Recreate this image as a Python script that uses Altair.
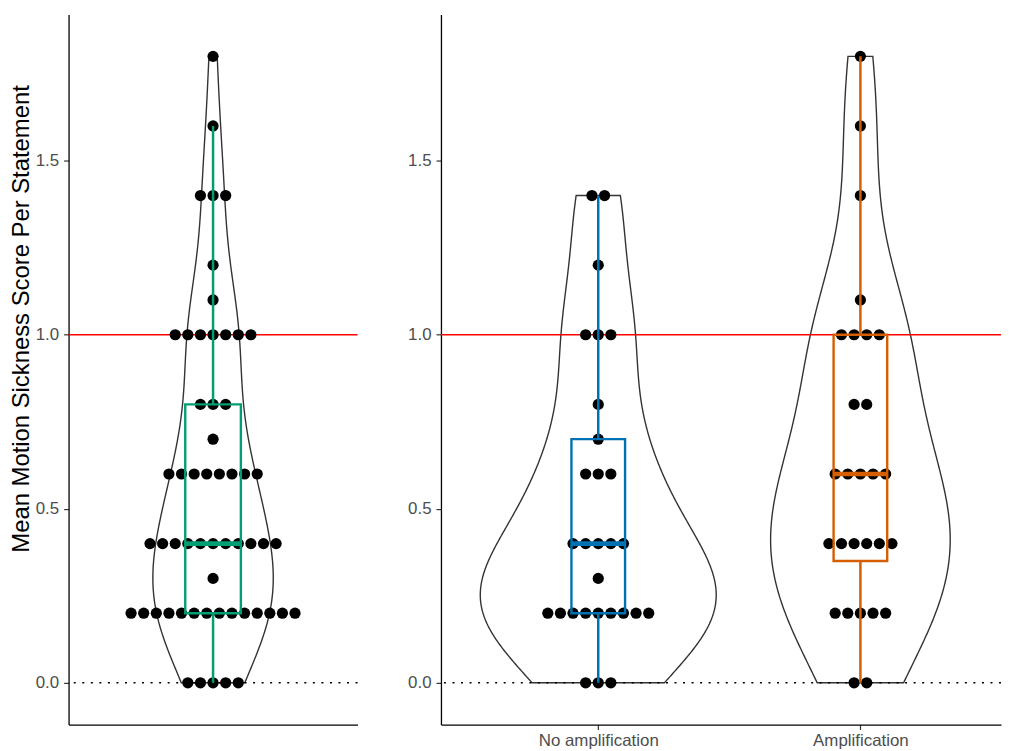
import json
import altair as alt
import numpy as np
import pandas as pd

# ---------------- data ----------------
levels = [0.0, 0.2, 0.3, 0.4, 0.6, 0.7, 0.8, 1.0, 1.1, 1.2, 1.4, 1.6, 1.8]
no_amp_counts = [3, 9, 1, 5, 3, 1, 1, 3, 0, 1, 2, 0, 0]
amp_counts = [2, 5, 0, 6, 5, 0, 2, 4, 1, 0, 1, 1, 1]
groups = ["No amplification", "Amplification"]
group_colors = ["#0072B2", "#D55E00"]
all_color = "#009E73"
y_ticks = [0.0, 0.5, 1.0, 1.5]
threshold = 1.0
baseline = 0.0
y_title = "Mean Motion Sickness Score Per Statement"


def expand(counts):
    return [v for v, c in zip(levels, counts) for _ in range(c)]


scores = {groups[0]: expand(no_amp_counts), groups[1]: expand(amp_counts)}
df_right = pd.DataFrame([{"group": g, "score": s} for g in groups for s in scores[g]])
df_all = pd.DataFrame({"group": "All", "score": df_right["score"].tolist()})


def bw_nrd0(x):
    x = np.asarray(x, float)
    sd = x.std(ddof=1)
    q75, q25 = np.percentile(x, [75, 25])
    lo = min(sd, (q75 - q25) / 1.34)
    if lo == 0:
        lo = sd
    return 0.9 * lo * len(x) ** -0.2


def kde_max(x, bw):
    x = np.asarray(x, float)
    grid = np.linspace(x.min(), x.max(), 512)
    d = np.exp(-0.5 * ((grid[:, None] - x[None, :]) / bw) ** 2).sum(1)
    d = d / (len(x) * bw * np.sqrt(2 * np.pi))
    return d.max()


# ---------------- styling ----------------
Y_DOMAIN = [-0.12, 1.92]
HEIGHT = 715
LEFT_W = 291
RIGHT_W = 564
PX_UNIT_R = 264.0
LEFT_DOMAIN = [0.4, 1.6]
RIGHT_DOMAIN = [0.4, 0.4 + RIGHT_W / PX_UNIT_R]
PX_UNIT_L = LEFT_W / (LEFT_DOMAIN[1] - LEFT_DOMAIN[0])
DOT_PX = 12.7
DOT_SIZE = 127
FONT = "Liberation Sans"


def make_panel(df, cats, colors, xdomain, width, px_unit, box_px, vwidth,
               show_title, show_xlabels):
    ys = alt.Scale(domain=Y_DOMAIN, nice=False, zero=False)
    xs = alt.Scale(domain=xdomain, nice=False, zero=False)
    if show_xlabels:
        label_expr = f"{json.dumps(cats)}[datum.value - 1]"
        xaxis = alt.Axis(values=list(range(1, len(cats) + 1)), labelExpr=label_expr,
                         title=None, grid=False, tickSize=5, labelPadding=3)
    else:
        xaxis = alt.Axis(values=[1], ticks=False, labels=False, title=None, grid=False)
    if show_title:
        yaxis = alt.Axis(values=y_ticks, format=".1f", grid=False, title=y_title,
                         titlePadding=2, titleY=306, titleFontSize=24)
    else:
        yaxis = alt.Axis(values=y_ticks, format=".1f", grid=False, title=None)

    def X(f):
        return alt.X(f, type="quantitative", scale=xs, axis=xaxis)

    def X2(f):
        return alt.X2(f)

    def Y(f):
        return alt.Y(f, type="quantitative", scale=ys, axis=yaxis)

    pos_expr = f"indexof({json.dumps(cats)}, datum.group) + 1"
    base = alt.Chart(df)

    # violin widths (ggplot scale = "area")
    bws = {c: bw_nrd0(df[df.group == c].score) for c in cats}
    gmax = max(kde_max(df[df.group == c].score, bws[c]) for c in cats)
    k = (vwidth / 2.0) / gmax

    layers = []
    for c in cats:
        sub = df[df.group == c].score
        layers.append(
            base.transform_filter(alt.datum.group == c)
            .transform_density("score", as_=["score", "density"], bandwidth=float(bws[c]),
                               extent=[float(sub.min()), float(sub.max())], steps=256)
            .transform_calculate(pos=f"indexof({json.dumps(cats)}, '{c}') + 1")
            .transform_calculate(lo=f"datum.pos - datum.density * {k}",
                                 hi=f"datum.pos + datum.density * {k}")
            .mark_area(orient="horizontal", fill="white", fillOpacity=0,
                       stroke="#333333", strokeWidth=1.4)
            .encode(y=Y("score"), x=X("lo"), x2=X2("hi"))
        )

    # reference lines
    layers.append(
        alt.Chart(pd.DataFrame({"y": [baseline]}))
        .mark_rule(color="black", strokeWidth=1.6, strokeDash=[2, 6.6])
        .encode(y=Y("y"))
    )
    layers.append(
        alt.Chart(pd.DataFrame({"y": [threshold]}))
        .mark_rule(color="#FF0000", strokeWidth=1.6)
        .encode(y=Y("y"))
    )

    # dot plot (centered stacks)
    dx = DOT_PX / px_unit
    layers.append(
        base.transform_calculate(pos=pos_expr)
        .transform_window(rank="row_number()", groupby=["group", "score"])
        .transform_joinaggregate(n="count()", groupby=["group", "score"])
        .transform_calculate(xpos=f"datum.pos + (datum.rank - (datum.n + 1) / 2) * {dx}")
        .mark_circle(size=DOT_SIZE, color="black", opacity=1)
        .encode(x=X("xpos"), y=Y("score"))
    )

    # box plots
    hw = (box_px / 2.0) / px_unit
    for c, col in zip(cats, colors):
        b = base.transform_filter(alt.datum.group == c)
        stats = (b.transform_aggregate(q1="q1(score)", med="median(score)", q3="q3(score)",
                                       groupby=["group"])
                 .transform_calculate(pos=pos_expr)
                 .transform_calculate(xl=f"datum.pos - {hw}", xr=f"datum.pos + {hw}"))
        whisk = (b.transform_joinaggregate(q1="q1(score)", q3="q3(score)", groupby=["group"])
                 .transform_calculate(lof="datum.q1 - 1.5 * (datum.q3 - datum.q1) - 1e-9",
                                      hif="datum.q3 + 1.5 * (datum.q3 - datum.q1) + 1e-9")
                 .transform_filter("datum.score >= datum.lof && datum.score <= datum.hif")
                 .transform_aggregate(wmin="min(score)", wmax="max(score)",
                                      bq1="max(q1)", bq3="max(q3)", groupby=["group"])
                 .transform_calculate(pos=pos_expr))
        layers.append(whisk.mark_rule(color=col, strokeWidth=2.5)
                      .encode(x=X("pos"), y=Y("wmin"), y2=alt.Y2("bq1")))
        layers.append(whisk.mark_rule(color=col, strokeWidth=2.5)
                      .encode(x=X("pos"), y=Y("bq3"), y2=alt.Y2("wmax")))
        layers.append(stats.mark_rect(fill="transparent", stroke=col, strokeWidth=2.4)
                      .encode(x=X("xl"), x2=X2("xr"), y=Y("q1"), y2=alt.Y2("q3")))
        layers.append(stats.mark_rule(color=col, strokeWidth=4.6)
                      .encode(x=X("xl"), x2=X2("xr"), y=Y("med")))

    return alt.layer(*layers).properties(width=width, height=HEIGHT)


left = make_panel(df_all, ["All"], [all_color], LEFT_DOMAIN, LEFT_W, PX_UNIT_L,
                  56, 0.5, True, False)
right = make_panel(df_right, groups, group_colors, RIGHT_DOMAIN, RIGHT_W, PX_UNIT_R,
                   54, 0.9, False, True)

chart = (
    alt.hconcat(left, right, spacing=47)
    .properties(padding={"left": 0, "top": 3, "right": 0, "bottom": 0})
    .configure(font=FONT)
    .configure_view(stroke="transparent")
    .configure_axis(domainColor="black", domainWidth=1.3, tickColor="#333333",
                    tickWidth=1.2, tickSize=5, labelColor="#4D4D4D", labelFontSize=17,
                    labelFont=FONT, titleFont=FONT, titleFontSize=20,
                    titleColor="black", titleFontWeight="normal", labelPadding=5,
                    grid=False)
)

chart.save("out.html", embed_options={"renderer": "svg", "actions": False})
